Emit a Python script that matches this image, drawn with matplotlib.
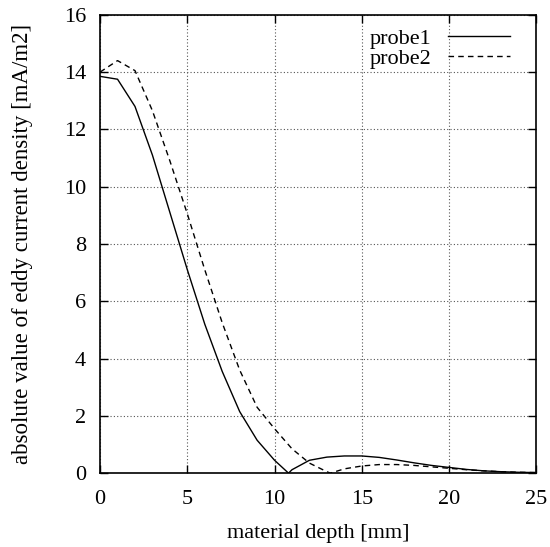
import matplotlib
matplotlib.use("Agg")
import matplotlib.pyplot as plt

# depth [mm] and current density |J| [mA/m2]
depth1 = [0, 1, 2, 3, 4, 5, 6, 7, 8, 9, 10, 10.8, 11, 12, 13, 14, 15, 16, 17,
          18, 19, 20, 21, 22, 23, 24, 25]
probe1 = [13.85, 13.75, 12.8, 11.1, 9.1, 7.1, 5.2, 3.55, 2.15, 1.15, 0.45, 0.0,
          0.12, 0.45, 0.56, 0.6, 0.6, 0.55, 0.46, 0.36, 0.27, 0.2, 0.13, 0.08,
          0.05, 0.03, 0.02]

depth2 = [0, 1, 2, 3, 4, 5, 6, 7, 8, 9, 10, 11, 12, 13, 13.2, 14, 15, 16, 17,
          18, 19, 20, 21, 22, 23, 24, 25]
probe2 = [14.0, 14.4, 14.05, 12.65, 10.9, 9.05, 7.1, 5.25, 3.6, 2.3, 1.55, 0.85,
          0.35, 0.05, 0.0, 0.15, 0.25, 0.3, 0.3, 0.27, 0.22, 0.17, 0.12, 0.08,
          0.05, 0.03, 0.02]

plt.rcParams['font.family'] = ['Liberation Serif', 'DejaVu Serif']
plt.rcParams['font.size'] = 16

fig = plt.figure(figsize=(5.5, 5.47), dpi=100)
ax = fig.add_axes([0.182, 0.135, 0.793, 0.838])

ax.plot(depth1, probe1, color='black', lw=1.0, label='probe1')
ax.plot(depth2, probe2, color='black', lw=1.0, ls=(0, (4, 3)), label='probe2')

ax.set_xlim(0, 25)
ax.set_ylim(0, 16)
ax.set_xticks(range(0, 26, 5))
ax.set_yticks(range(0, 17, 2))
ax.grid(True, ls=(0, (1, 2)), color='#555555', lw=0.8)
ax.tick_params(direction='in', top=True, right=True, length=6, width=1)
ax.tick_params(axis='y', pad=10)
ax.tick_params(axis='x', pad=12)
for s in ax.spines.values():
    s.set_linewidth(1.2)

ax.set_xlabel('material depth [mm]', labelpad=11)
ax.set_ylabel('absolute value of eddy current density [mA/m2]', labelpad=22,
              fontsize=16.5)

leg = ax.legend(loc='upper right', bbox_to_anchor=(0.97, 1.0), frameon=False,
                handlelength=2.8, borderaxespad=0.2, labelspacing=0.0,
                handletextpad=0.75, markerfirst=False, borderpad=0.4)

fig.savefig('out.png', dpi=100)
